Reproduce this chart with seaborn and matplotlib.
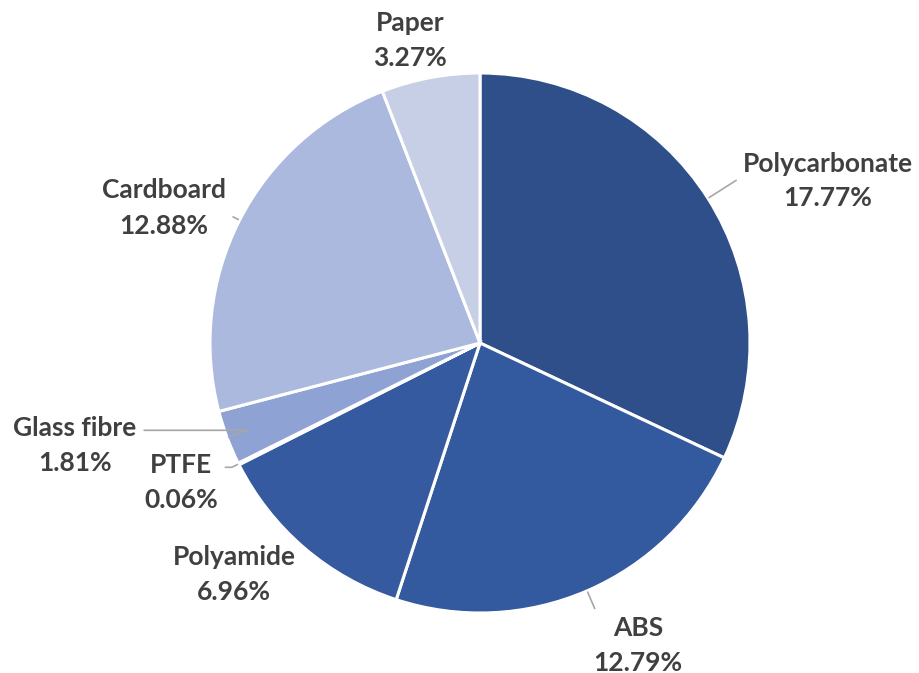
import numpy as np
import matplotlib
matplotlib.use("Agg")
import matplotlib.pyplot as plt
import seaborn as sns

materials = ["Polycarbonate", "ABS", "Polyamide", "PTFE", "Glass fibre", "Cardboard", "Paper"]
shares = [17.77, 12.79, 6.96, 0.06, 1.81, 12.88, 3.27]
colors = ["#2E4F8A", "#33599E", "#355AA0", "#6F86C4", "#8EA2D4", "#ACB9DE", "#C7CFE6"]

# label centres (in pie radius units) and where the leader meets the label box
label_pos = [(1.289, 0.60), (0.585, -1.119), (-0.911, -0.859), (-1.107, -0.515),
             (-1.50, -0.378), (-1.17, 0.50), (-0.259, 1.122)]
leader_rel = [(0, 0.75), (0.1, 0.75), None, (1, 0.75), (1, 0.75), (1, 0.7), None]

sns.set_theme(style="white")
plt.rcParams["font.family"] = ["Lato", "DejaVu Sans"]

fig = plt.figure(figsize=(9.19, 6.73), dpi=100)
ax = fig.add_axes([210 / 919, 60 / 673, 540 / 919, 540 / 673])

wedges, _ = ax.pie(shares, colors=colors, startangle=90, counterclock=False,
                   radius=1, wedgeprops=dict(edgecolor="white", linewidth=2.2))

for w, name, val, pos, rel in zip(wedges, materials, shares, label_pos, leader_rel):
    mid = (w.theta1 + w.theta2) / 2
    edge = (np.cos(np.deg2rad(mid)), np.sin(np.deg2rad(mid)))
    label = f"{name}\n{val:.2f}%"
    kw = dict(ha="center", va="center", fontsize=19, fontweight="bold",
              color="#404040", linespacing=1.55)
    if rel is None:
        ax.text(pos[0], pos[1], label, **kw)
    else:
        ax.annotate(label, xy=edge, xytext=pos, **kw,
                    arrowprops=dict(arrowstyle="-", color="#A6A6A6", lw=1.2,
                                    relpos=rel, shrinkA=3, shrinkB=1,
                                    connectionstyle=f"angle,angleA=0,angleB={mid % 180:.1f},rad=0"))

ax.set_xlim(-1, 1)
ax.set_ylim(-1, 1)
ax.set_aspect("equal")
ax.axis("off")

fig.savefig("out.png", dpi=100)
